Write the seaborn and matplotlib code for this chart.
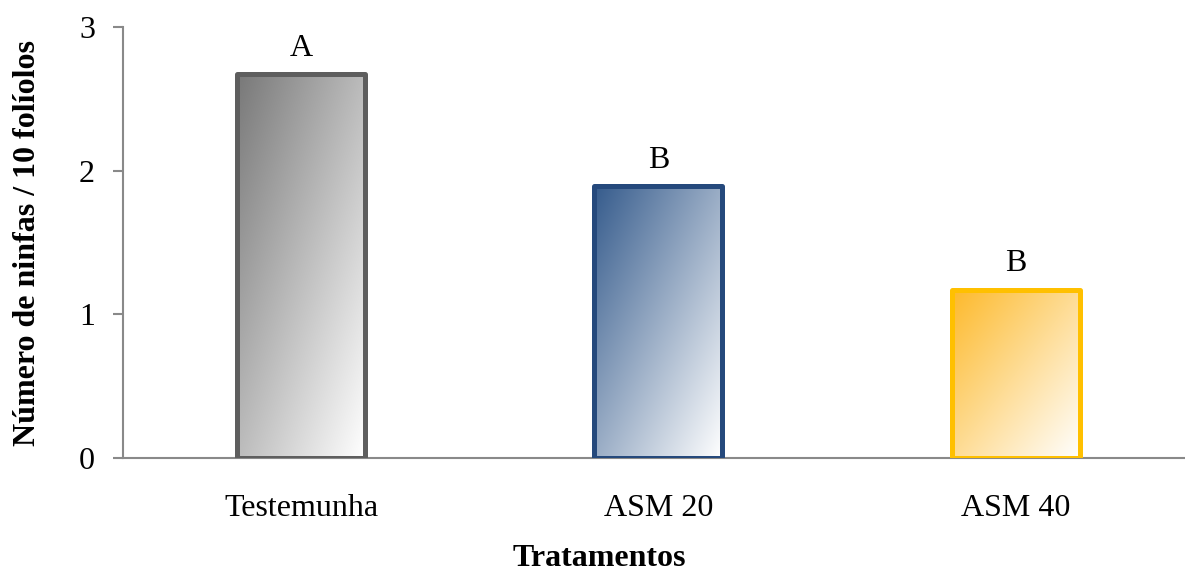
import numpy as np
import matplotlib
matplotlib.use("Agg")
import matplotlib.pyplot as plt
import matplotlib.colors as mcolors
import seaborn as sns

categories = ["Testemunha", "ASM 20", "ASM 40"]
values = [2.67, 1.89, 1.17]
letters = ["A", "B", "B"]
y_ticks = [0, 1, 2, 3]
edge_colors = ["#5E5E5E", "#25497C", "#FFC000"]
start_colors = ["#787878", "#355B8C", "#FDB92A"]
y_label = "Número de ninfas / 10 folíolos"
x_label = "Tratamentos"

sns.set_style("white")
plt.rcParams["font.family"] = ["Liberation Serif", "DejaVu Serif"]
plt.rcParams["text.color"] = "black"
plt.rcParams["xtick.labelcolor"] = "black"
plt.rcParams["ytick.labelcolor"] = "black"
FS = 23
AXIS_GRAY = "#898989"

W, H = 1185, 573
fig = plt.figure(figsize=(W / 100, H / 100), dpi=100)
ax = fig.add_axes([123 / W, 115 / H, 1062 / W, 431 / H])

sns.barplot(x=categories, y=values, ax=ax, width=0.358, color="white",
            linewidth=3.6, saturation=1, zorder=3)

n = 200
u = np.linspace(0, 1, n)[None, :]
v = np.linspace(0, 1, n)[:, None]  # top row = 0
t = np.clip((u + v) / 2.0, 0, 1)

for patch, ec, sc in zip(ax.patches, edge_colors, start_colors):
    rgb = np.array(mcolors.to_rgb(sc))
    img = rgb[None, None, :] * (1 - t[..., None]) + np.ones(3)[None, None, :] * t[..., None]
    x0, y0 = patch.get_x(), patch.get_y()
    w, h = patch.get_width(), patch.get_height()
    im = ax.imshow(img, extent=(x0, x0 + w, y0, y0 + h), origin="upper",
                   aspect="auto", zorder=2.9, interpolation="bilinear")
    im.set_clip_path(patch)
    patch.set_facecolor("none")
    patch.set_edgecolor(ec)
    patch.set_linewidth(3.6)
    patch.set_joinstyle("round")

for i, (val, lab) in enumerate(zip(values, letters)):
    ax.text(i, val + 0.13, lab, ha="center", va="baseline", fontsize=FS,
            color="black")

ax.set_xlim(-0.498, 2.473)
ax.set_ylim(0, 3)
ax.set_yticks(y_ticks)
ax.set_yticklabels([str(v) for v in y_ticks], fontsize=FS)
ax.set_xticks(range(len(categories)))
ax.set_xticklabels(categories, fontsize=FS)

for s in ["top", "right"]:
    ax.spines[s].set_visible(False)
for s in ["left", "bottom"]:
    ax.spines[s].set_color(AXIS_GRAY)
    ax.spines[s].set_linewidth(1.5)
    ax.spines[s].set_zorder(2)

ax.tick_params(axis="y", length=7.2, width=1.5, color=AXIS_GRAY, pad=13,
               direction="out", left=True)
ax.tick_params(axis="x", length=0, pad=26, bottom=True)

ax.set_xlabel("")
ax.set_ylabel("")
fig.text(0.5055, 1 - 559 / H, x_label, ha="center", va="center",
         fontsize=FS, fontweight="bold")
fig.text(28 / W, 1 - 243 / H, y_label, ha="center", va="center",
         rotation=90, fontsize=FS, fontweight="bold")

fig.savefig("out.png", dpi=100)
